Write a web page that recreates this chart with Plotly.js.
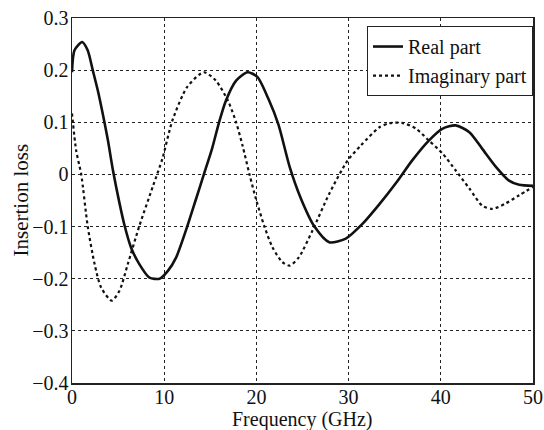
<!DOCTYPE html>
<html>
<head>
<meta charset="utf-8">
<script src="https://cdn.plot.ly/plotly-3.0.1.min.js"></script>
<style>
  html, body { margin: 0; padding: 0; background: #fff; }
  #chart { width: 544px; height: 430px; }
</style>
</head>
<body>
<div id="chart"></div>
<script>
// Insertion loss versus frequency: real and imaginary parts
const realFreq = [0, 0.27, 1.1, 1.7, 2.25, 2.8, 3.34, 3.9, 4.42, 5.15, 5.7, 6.4, 7.3, 8.4, 9.5, 10.4, 11.3, 12.4, 13.4, 14.3, 15.2, 15.95, 16.7, 17.8, 19.05, 20.1, 21.3, 22.4, 23.6, 24.8, 26.3, 27.9, 29.7, 31.5, 33.3, 35.2, 36.9, 38.7, 40.2, 41.6, 43.1, 44.5, 46.0, 47.4, 48.5, 50];
const realLoss = [0.196, 0.238, 0.254, 0.238, 0.2, 0.161, 0.116, 0.065, 0.01, -0.055, -0.098, -0.14, -0.172, -0.198, -0.2, -0.185, -0.159, -0.105, -0.05, 0.0, 0.05, 0.1, 0.142, 0.18, 0.196, 0.187, 0.145, 0.095, 0.015, -0.045, -0.1, -0.13, -0.123, -0.095, -0.058, -0.015, 0.027, 0.065, 0.088, 0.094, 0.081, 0.049, 0.014, -0.012, -0.02, -0.022];

const imagFreq = [0, 0.45, 1.0, 1.7, 2.45, 3.16, 4.3, 5.15, 6.05, 7.3, 8.75, 9.8, 10.9, 12.5, 14.3, 15.6, 16.9, 17.8, 18.5, 19.25, 20.0, 20.85, 21.75, 22.8, 23.6, 24.6, 26.1, 27.9, 29.9, 31.3, 33.3, 34.4, 35.8, 37.3, 38.7, 40.2, 41.6, 43.1, 44.5, 45.6, 47.0, 48.5, 50];
const imagLoss = [0.117, 0.046, 0.0, -0.099, -0.172, -0.217, -0.242, -0.223, -0.172, -0.099, -0.024, 0.03, 0.104, 0.168, 0.196, 0.18, 0.142, 0.1, 0.055, 0.0, -0.05, -0.099, -0.14, -0.168, -0.175, -0.159, -0.107, -0.037, 0.027, 0.055, 0.09, 0.098, 0.099, 0.088, 0.065, 0.04, 0.008, -0.027, -0.06, -0.066, -0.056, -0.04, -0.024];

const xTickVals = [0, 10, 20, 30, 40, 50];
const xTickText = ['0', '10', '20', '30', '40', '50'];
const yTickVals = [-0.4, -0.3, -0.2, -0.1, 0, 0.1, 0.2, 0.3];
const yTickText = ['\u22120.4', '\u22120.3', '\u22120.2', '\u22120.1', '0', '0.1', '0.2', '0.3'];

const xTitle = 'Frequency (GHz)';
const yTitle = 'Insertion loss';

const serif = 'Liberation Serif, Times New Roman, serif';
const ink = '#111';

const traces = [
  {
    x: realFreq, y: realLoss, name: 'Real part', type: 'scatter', mode: 'lines',
    line: { color: ink, width: 2.6, shape: 'spline', smoothing: 0.7 }
  },
  {
    x: imagFreq, y: imagLoss, name: 'Imaginary part', type: 'scatter', mode: 'lines',
    line: { color: ink, width: 2.2, dash: 'dot', shape: 'spline', smoothing: 0.7 }
  }
];

const axisCommon = {
  showline: true, linecolor: '#222', linewidth: 1.5, mirror: true,
  showgrid: true, gridcolor: '#222', gridwidth: 1, griddash: '3px,3px',
  zeroline: false, ticks: '', tickfont: { family: serif, size: 20, color: ink }
};

const layout = {
  width: 544, height: 430,
  margin: { l: 72, r: 11, t: 18, b: 47 },
  paper_bgcolor: '#fff', plot_bgcolor: '#fff',
  font: { family: serif, size: 20, color: ink },
  showlegend: true,
  legend: {
    x: 1, xanchor: 'right', y: 0.978, yanchor: 'top',
    bgcolor: '#fff', bordercolor: '#222', borderwidth: 1,
    font: { family: serif, size: 20, color: ink },
    tracegroupgap: 0
  },
  xaxis: Object.assign({}, axisCommon, {
    range: [0, 50], tickmode: 'array', tickvals: xTickVals, ticktext: xTickText,
    ticklabelstandoff: -5
  }),
  yaxis: Object.assign({}, axisCommon, {
    range: [-0.4, 0.3], tickmode: 'array', tickvals: yTickVals, ticktext: yTickText,
    ticklabelstandoff: -2
  }),
  annotations: [
    {
      text: xTitle, xref: 'paper', yref: 'paper', x: 0.5, y: 0,
      xanchor: 'center', yanchor: 'top', yshift: -24, borderpad: 0, showarrow: false,
      font: { family: serif, size: 20, color: ink }
    },
    {
      text: yTitle, xref: 'paper', yref: 'paper', x: 0, y: 0.5,
      xanchor: 'center', yanchor: 'middle', xshift: -52, textangle: -90, showarrow: false,
      font: { family: serif, size: 21, color: ink }
    }
  ]
};

Plotly.newPlot('chart', traces, layout, { displayModeBar: false, staticPlot: true });
</script>
</body>
</html>
